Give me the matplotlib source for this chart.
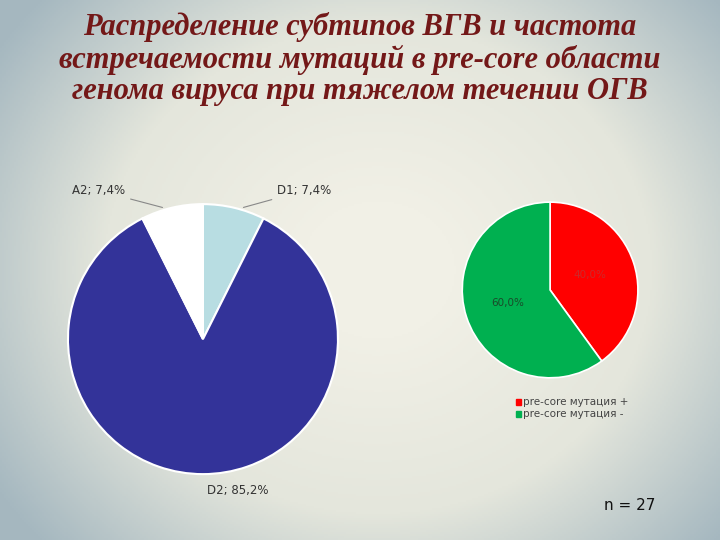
import numpy as np
import matplotlib
matplotlib.use("Agg")
import matplotlib.pyplot as plt
from matplotlib.colors import LinearSegmentedColormap

subtypes = ["D1", "D2", "A2"]
subtype_pct = [7.4, 85.2, 7.4]
subtype_colors = ["#b8dde2", "#333399", "#ffffff"]
mut_labels = ["pre-core мутация +", "pre-core мутация -"]
mut_pct = [40.0, 60.0]
mut_colors = ["#ff0000", "#00b050"]

fig = plt.figure(figsize=(7.2, 5.4), dpi=100)
bg = fig.add_axes([0, 0, 1, 1])
x = np.linspace(-1, 1, 360)
y = np.linspace(-1, 1, 270)
X, Y = np.meshgrid(x, y)
r = np.sqrt(((X - 0.05) * 0.95) ** 2 + (Y * 0.8) ** 2)
cm = LinearSegmentedColormap.from_list("bg", ["#f1f0e6", "#e4e6dc", "#9fb3bd"])
bg.imshow(np.clip(r, 0, 1.2), cmap=cm, extent=[0, 1, 0, 1], aspect="auto", vmin=0.2, vmax=1.25)
bg.set_axis_off()

fig.text(0.5, 0.978, "Распределение субтипов ВГВ и частота\nвстречаемости мутаций в pre-core области\nгенома вируса при тяжелом течении ОГВ",
         ha="center", va="top", fontsize=22, fontweight="bold", fontstyle="italic",
         family="Liberation Serif", color="#731818", linespacing=1.12)

ax1 = fig.add_axes([0.0944, 0.122, 0.375, 0.5])
ax1.pie(subtype_pct, colors=subtype_colors, startangle=90, counterclock=False,
        wedgeprops=dict(edgecolor="white", linewidth=1.5))
ax1.set_xlim(-1, 1); ax1.set_ylim(-1, 1); ax1.set_aspect("equal")
lab = [f"{n}; {str(p).replace('.', ',')}%" for n, p in zip(subtypes, subtype_pct)]
ax1.annotate(lab[0], xy=(0.28, 0.97), xytext=(0.55, 1.1), fontsize=8.5, color="#333333",
             arrowprops=dict(arrowstyle="-", color="#888888", lw=0.8), va="center")
ax1.annotate(lab[2], xy=(-0.28, 0.97), xytext=(-0.97, 1.1), fontsize=8.5, color="#333333",
             arrowprops=dict(arrowstyle="-", color="#888888", lw=0.8), va="center")
ax1.text(0.03, -1.12, lab[1], fontsize=8.5, color="#333333", va="center")

ax2 = fig.add_axes([0.642, 0.30, 0.244, 0.326])
ax2.pie(mut_pct, colors=mut_colors, startangle=90, counterclock=False,
        wedgeprops=dict(edgecolor="white", linewidth=1.2))
ax2.set_xlim(-1, 1); ax2.set_ylim(-1, 1); ax2.set_aspect("equal")
ax2.text(0.45, 0.17, f"{mut_pct[0]:.1f}%".replace(".", ","), fontsize=7.5, color="#cc2a2a", ha="center", va="center")
ax2.text(-0.48, -0.15, f"{mut_pct[1]:.1f}%".replace(".", ","), fontsize=7.5, color="#1a4a2a", ha="center", va="center")

for i, (l, c) in enumerate(zip(mut_labels, mut_colors)):
    yy = 0.256 - i * 0.022
    fig.patches.append(plt.Rectangle((0.717, yy - 0.006), 0.007, 0.011, color=c, transform=fig.transFigure))
    fig.text(0.727, yy, l, fontsize=7.5, color="#444444", va="center")

fig.text(0.875, 0.063, "n = 27", fontsize=11, color="#111111", ha="center", va="center")

fig.savefig("out.png", dpi=100)
